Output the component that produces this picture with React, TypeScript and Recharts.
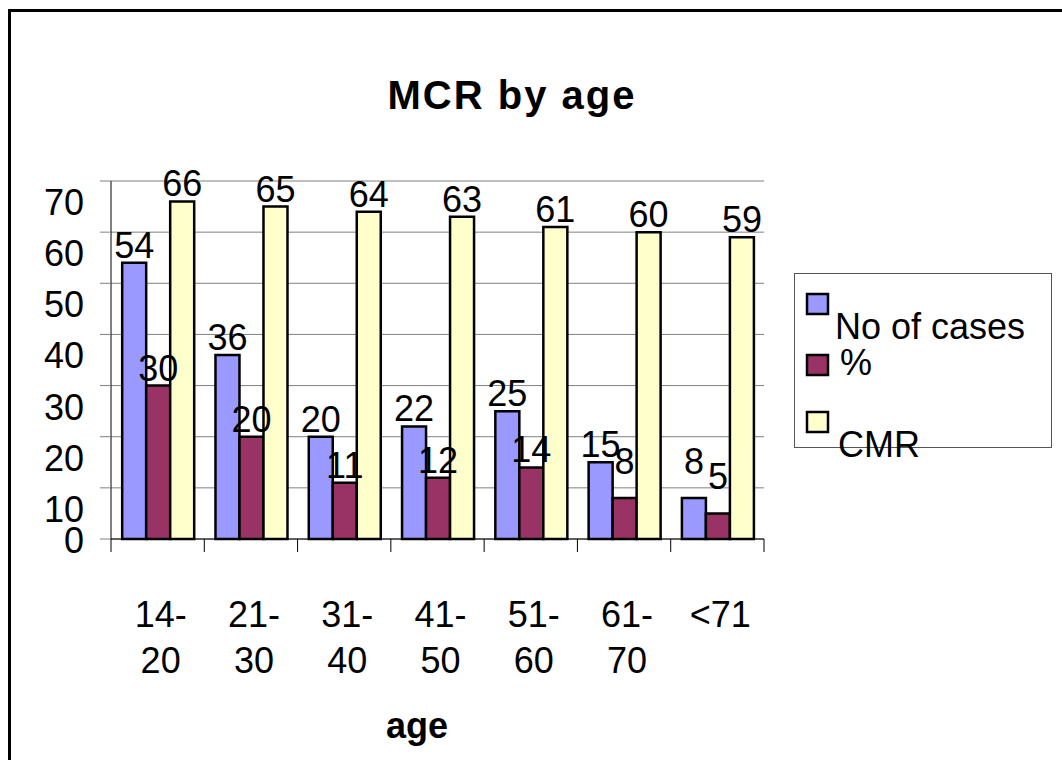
import React from 'react'
import { BarChart, Bar, XAxis, YAxis, CartesianGrid, Legend } from 'recharts'

const categories = ['14-20', '21-30', '31-40', '41-50', '51-60', '61-70', '<71']
const cases = [54, 36, 20, 22, 25, 15, 8]
const percent = [30, 20, 11, 12, 14, 8, 5]
const cmr = [66, 65, 64, 63, 61, 60, 59]
const seriesNames = ['No of cases', '%', 'CMR']
const yTicks = [0, 10, 20, 30, 40, 50, 60, 70]

const data = categories.map((age, i) => ({
  age,
  cases: cases[i],
  percent: percent[i],
  cmr: cmr[i],
}))

const W = 1062
const H = 760
const PLOT_LEFT = 111
const PLOT_RIGHT = 764
const PLOT_TOP = 181
const PLOT_BOTTOM = 539
const BAND = (PLOT_RIGHT - PLOT_LEFT) / categories.length
const FONT = '"Liberation Sans", Arial, sans-serif'

const YTick = ({ x, y, payload }: any) => (
  <text x={x} y={y + (payload.value === 0 ? 14 : 34)} textAnchor="end"
    fontSize={36} fontFamily={FONT} fill="#000">
    {payload.value}
  </text>
)

const XTick = ({ x, index, payload }: any) => {
  const m = String(payload.value).match(/^(\d+-)(\d+)$/)
  const lines = m ? [m[1], m[2]] : [payload.value]
  const left = x - BAND / 2
  return (
    <g>
      <line x1={left} x2={left} y1={PLOT_BOTTOM} y2={PLOT_BOTTOM + 13} stroke="#000" />
      {index === categories.length - 1 && (
        <line x1={x + BAND / 2} x2={x + BAND / 2} y1={PLOT_BOTTOM} y2={PLOT_BOTTOM + 13} stroke="#000" />
      )}
      {lines.map((t: string, i: number) => (
        <text key={i} x={x + 3} y={627 + i * 46} textAnchor="middle"
          fontSize={36} fontFamily={FONT} fill="#000">{t}</text>
      ))}
    </g>
  )
}

const BarLabel = ({ x, y, width, value }: any) => (
  <text x={x + width / 2} y={y - (value < 10 ? 24 : 5)} textAnchor="middle"
    fontSize={36} fontFamily={FONT} fill="#000">
    {value}
  </text>
)

// legend rows, relative to the box
const rows = [
  { sq: 21, base: 66, tx: 41 },
  { sq: 82, base: 102, tx: 46 },
  { sq: 139, base: 184, tx: 44 },
]

const LegendBox = ({ payload }: any) => {
  const items = seriesNames.map((n) => (payload || []).find((p: any) => p.value === n)).filter(Boolean)
  return (
    <svg width={260} height={200} style={{ overflow: 'visible', display: 'block' }}>
      <rect x={0.5} y={0.5} width={257} height={174} fill="#fff" stroke="#555" />
      {items.map((p: any, i: number) => (
        <g key={p.value}>
          <rect x={13} y={rows[i].sq} width={21} height={20} fill={p.color} stroke="#000" strokeWidth={2.5} />
          <text x={rows[i].tx} y={rows[i].base} fontSize={36} fontFamily={FONT} fill="#000">{p.value}</text>
        </g>
      ))}
    </svg>
  )
}

export default function App() {
  return (
    <div style={{ position: 'fixed', left: 0, top: 0, width: W, height: H, overflow: 'hidden', background: '#fff' }}>
      <div style={{
        position: 'absolute', left: 8, top: 9, width: 1200, height: 900,
        border: '3px solid #000', boxSizing: 'border-box',
      }} />
      <div style={{ position: 'absolute', left: 0, top: 0 }}>
        <BarChart width={W} height={H} data={data}
          margin={{ top: PLOT_TOP, right: W - PLOT_RIGHT, bottom: H - PLOT_BOTTOM - 60, left: 0 }}
          barCategoryGap="12%" barGap={0}>
          <CartesianGrid horizontal vertical={false} stroke="#808080" />
          <XAxis dataKey="age" height={60} tick={<XTick />} tickLine={false}
            axisLine={{ stroke: '#000' }} interval={0} />
          <YAxis width={PLOT_LEFT} domain={[0, 70]} ticks={yTicks} interval={0}
            tick={<YTick />} tickSize={11} tickMargin={16}
            tickLine={{ stroke: '#808080' }} axisLine={{ stroke: '#000' }} />
          <Legend layout="vertical" align="center" verticalAlign="middle"
            content={<LegendBox />}
            wrapperStyle={{ position: 'absolute', left: 794, top: 273, width: 260, height: 200 }} />
          <Bar dataKey="cases" name="No of cases" fill="#9999FF" stroke="#000" strokeWidth={2.5}
            isAnimationActive={false} label={<BarLabel />} />
          <Bar dataKey="percent" name="%" fill="#993366" stroke="#000" strokeWidth={2.5}
            isAnimationActive={false} label={<BarLabel />} />
          <Bar dataKey="cmr" name="CMR" fill="#FFFFCC" stroke="#000" strokeWidth={2.5}
            isAnimationActive={false} label={<BarLabel />} />
        </BarChart>
      </div>
      <svg width={W} height={H} style={{ position: 'absolute', left: 0, top: 0, pointerEvents: 'none' }}>
        <text x={512} y={109} textAnchor="middle" fontSize={40} fontWeight="bold"
          letterSpacing={2} fontFamily={FONT} fill="#000">MCR by age</text>
        <text x={417} y={738} textAnchor="middle" fontSize={36} fontWeight="bold"
          fontFamily={FONT} fill="#000">age</text>
      </svg>
    </div>
  )
}
